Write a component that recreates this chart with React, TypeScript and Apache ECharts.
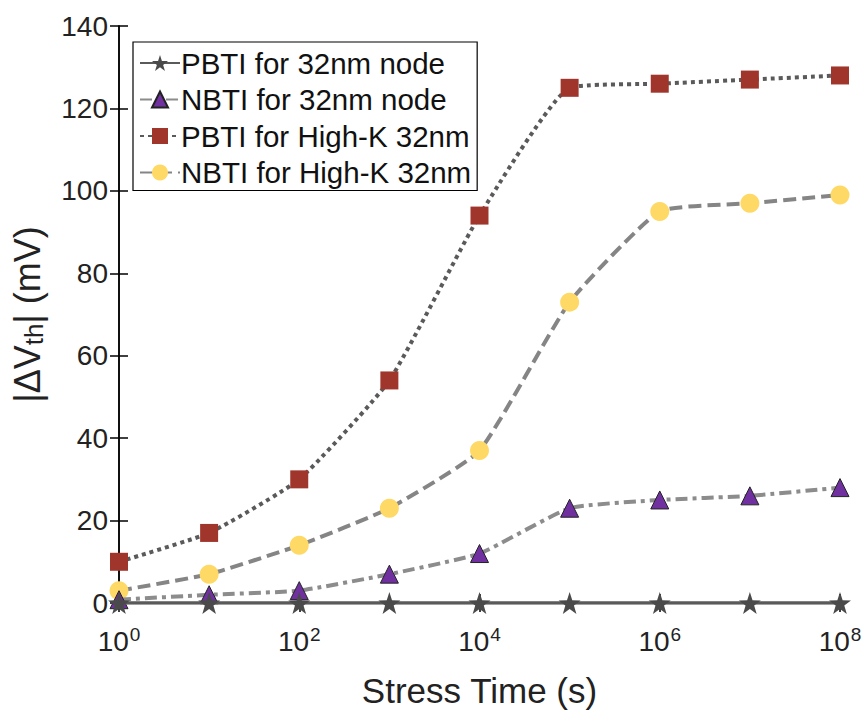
import React, { useEffect, useRef } from "react";
import * as echarts from "echarts";

// Stress time as decade exponent (10^n s)
const stressTimeExp = [0, 1, 2, 3, 4, 5, 6, 7, 8];
const pbti32 = [0, 0, 0, 0, 0, 0, 0, 0, 0];
const nbti32 = [0.8, 2, 3, 7, 12, 23, 25, 26, 28];
const pbtiHK = [10, 17, 30, 54, 94, 125, 126, 127, 128];
const nbtiHK = [3, 7, 14, 23, 37, 73, 95, 97, 99];
const seriesNames = [
  "PBTI for 32nm node",
  "NBTI for 32nm node",
  "PBTI for High-K 32nm",
  "NBTI for High-K 32nm",
];

const STAR =
  "path://M50,0 L61.8,35.1 L98.9,35.5 L69.1,57.6 L80.3,93.1 L50,71.5 L19.7,93.1 L30.9,57.6 L1.1,35.5 L38.2,35.1 Z";

const FONT = "'Liberation Sans', Arial, sans-serif";

export default function App() {
  const ref = useRef<HTMLDivElement>(null);
  useEffect(() => {
    if (!ref.current) return;
    const chart = echarts.init(ref.current, null, { renderer: "svg" });
    const pair = (ys: number[]) => stressTimeExp.map((t, i) => [t, ys[i]]);
    const xCommon = {
      type: "value" as const,
      min: 0,
      max: 8,
      interval: 2,
      splitLine: { show: false },
      axisLine: { show: true, lineStyle: { color: "#000", width: 1.5 } },
      axisTick: { show: true, inside: true, length: 9, lineStyle: { color: "#000", width: 1.5 } },
    };
    const yCommon = {
      type: "value" as const,
      min: 0,
      max: 140,
      interval: 20,
      splitLine: { show: false },
      axisLine: { show: true, lineStyle: { color: "#000", width: 1.5 } },
      axisTick: { show: true, inside: true, length: 9, lineStyle: { color: "#000", width: 1.5 } },
    };
    chart.setOption({
      animation: false,
      backgroundColor: "#fff",
      grid: { left: 119, right: 26, top: 26, bottom: 112, containLabel: false },
      legend: {
        orient: "vertical",
        left: 133,
        top: 42,
        data: seriesNames,
        backgroundColor: "#fff",
        borderColor: "#000",
        borderWidth: 1.2,
        borderRadius: 0,
        padding: [6, 6, 3, 6],
        itemGap: 6.5,
        itemWidth: 40,
        itemHeight: 20,
        textStyle: { fontFamily: FONT, fontSize: 29.5, lineHeight: 29, color: "#111", padding: [0, 0, 0, -4] },
      },
      xAxis: [
        {
          ...xCommon,
          position: "bottom",
          name: "Stress Time (s)",
          nameLocation: "middle",
          nameGap: 70,
          nameTextStyle: { fontFamily: FONT, fontSize: 35, color: "#222" },
          axisLabel: {
            margin: 22,
            formatter: (v: number) => `{b|10}{s|${v}}`,
            rich: {
              b: { fontFamily: FONT, fontSize: 28, color: "#222" },
              s: { fontFamily: FONT, fontSize: 19, color: "#222", verticalAlign: "top", padding: [0, 0, 14, 1] },
            },
          },
        },
        {
          ...xCommon,
          position: "top",
          axisLabel: { show: false },
        },
      ],
      yAxis: [
        {
          ...yCommon,
          position: "left",
          name: "{a||\u0394V}{s|th}{a|| (mV)}",
          nameLocation: "middle",
          nameGap: 72,
          nameRotate: 90,
          nameTextStyle: {
            rich: {
              a: { fontFamily: FONT, fontSize: 36, color: "#222" },
              s: { fontFamily: FONT, fontSize: 26, color: "#222", verticalAlign: "bottom", padding: [14, 0, 0, 0] },
            },
          },
          axisLabel: { margin: 11, fontFamily: FONT, fontSize: 28, color: "#222" },
        },
        {
          ...yCommon,
          position: "right",
          axisLabel: { show: false },
        },
      ],
      series: [
        {
          name: seriesNames[0],
          type: "line",
          data: pair(pbti32),
          symbol: STAR,
          symbolSize: 22,
          itemStyle: { color: "#4a4a4a" },
          lineStyle: { color: "#5a5a5a", width: 3.5, type: "solid" },
          z: 5,
        },
        {
          name: seriesNames[1],
          type: "line",
          data: pair(nbti32),
          smooth: 0.15,
          symbol: "triangle",
          symbolSize: 18,
          itemStyle: { color: "#7030a0", borderColor: "#222", borderWidth: 1 },
          lineStyle: { color: "#8c8c8c", width: 4, type: [12, 5, 4, 5] },
          z: 4,
        },
        {
          name: seriesNames[2],
          type: "line",
          data: pair(pbtiHK),
          smooth: 0.15,
          symbol: "rect",
          symbolSize: 18,
          itemStyle: { color: "#a0352c" },
          lineStyle: { color: "#5a5a5a", width: 4, type: [4, 4] },
          z: 3,
        },
        {
          name: seriesNames[3],
          type: "line",
          data: pair(nbtiHK),
          smooth: 0.15,
          symbol: "circle",
          symbolSize: 19,
          itemStyle: { color: "#ffd966" },
          lineStyle: { color: "#858585", width: 4, type: [13, 6] },
          z: 2,
        },
      ],
    });
    return () => chart.dispose();
  }, []);
  return (
    <div
      ref={ref}
      style={{ position: "fixed", left: 0, top: 0, width: 866, height: 715 }}
    />
  );
}
